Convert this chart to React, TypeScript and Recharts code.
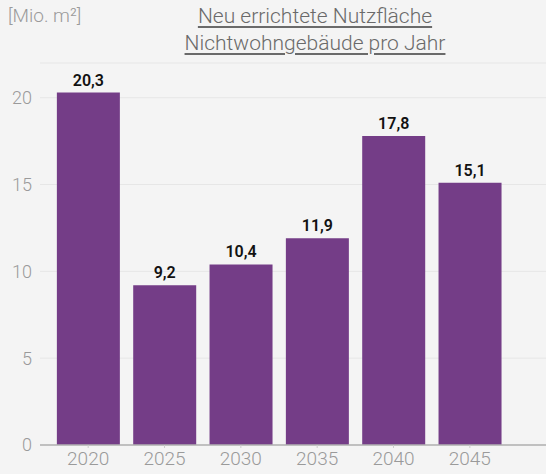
import React from "react";
import { BarChart, Bar, XAxis, YAxis, CartesianGrid, LabelList } from "recharts";

const years = ["2020", "2025", "2030", "2035", "2040", "2045"];
const areaValues = [20.3, 9.2, 10.4, 11.9, 17.8, 15.1];
const yTicks = [0, 5, 10, 15, 20];

const data = years.map((y, i) => ({ year: y, value: areaValues[i] }));

const FONT = "Roboto, 'DejaVu Sans', sans-serif";

export default function App() {
  return (
    <div
      style={{
        position: "absolute",
        left: 0,
        top: 0,
        width: 546,
        height: 474,
        background: "#f4f4f4",
        fontFamily: FONT,
        overflow: "hidden",
      }}
    >
      <div style={{ position: "absolute", left: 8, top: 4, fontSize: 19, color: "#9a9a9a", fontWeight: 300 }}>
        [Mio. m²]
      </div>
      <div
        style={{
          position: "absolute",
          left: 155,
          width: 320,
          top: 3,
          textAlign: "center",
          fontSize: 21,
          lineHeight: "27px",
          color: "#6a6a6a",
          fontWeight: 300,
          textDecoration: "underline",
          textUnderlineOffset: 3,
        }}
      >
        Neu errichtete Nutzfläche
        <br />
        Nichtwohngebäude pro Jahr
      </div>
      <div style={{ position: "absolute", left: 0, top: 0 }}>
        <BarChart
          width={546}
          height={474}
          data={data}
          margin={{ top: 63, right: 0, bottom: 0, left: 0 }}
          barCategoryGap="9%"
        >
          <CartesianGrid vertical={false} stroke="#e6e6e6" />
          <XAxis
            dataKey="year"
            height={29}
            padding={{ left: 10, right: 38 }}
            axisLine={{ stroke: "#b0b0b0", strokeWidth: 1.5 }}
            tickLine={{ stroke: "#cccccc" }}
            tickSize={3}
            tickMargin={4}
            tick={{ fill: "#9a9a9a", fontSize: 19, fontFamily: FONT, fontWeight: 300 }}
          />
          <YAxis
            width={40}
            domain={[0, 22]}
            ticks={yTicks}
            axisLine={false}
            tickLine={false}
            tick={{ fill: "#9a9a9a", fontSize: 18, fontFamily: FONT, fontWeight: 300 }}
          />
          <Bar dataKey="value" fill="#743d87" isAnimationActive={false}>
            <LabelList
              dataKey="value"
              position="top"
              offset={7}
              formatter={(v: number) => v.toFixed(1).replace(".", ",")}
              style={{ fill: "#111111", fontSize: 16, fontWeight: 600, fontFamily: FONT }}
            />
          </Bar>
        </BarChart>
      </div>
    </div>
  );
}
